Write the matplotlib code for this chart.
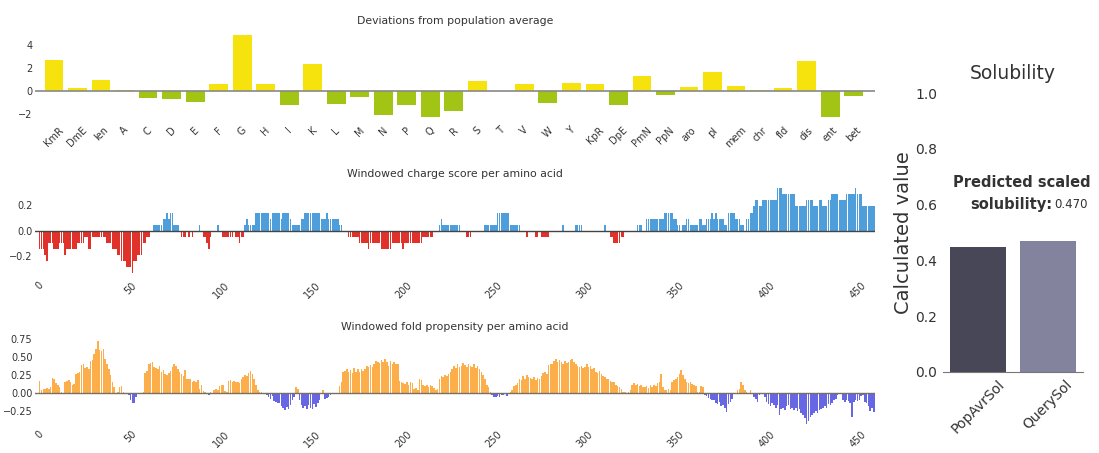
import numpy as np
import matplotlib
matplotlib.use('Agg')
import matplotlib.pyplot as plt

# deviations of each sequence feature from the population average
features = ['KmR', 'DmE', 'len', 'A', 'C', 'D', 'E', 'F', 'G', 'H', 'I', 'K', 'L',
            'M', 'N', 'P', 'Q', 'R', 'S', 'T', 'V', 'W', 'Y', 'KpR', 'DpE', 'PmN',
            'PpN', 'aro', 'pI', 'mem', 'chr', 'fld', 'dis', 'ent', 'bet']
deviations = [2.64, 0.23, 0.96, 0.10, -0.64, -0.72, -0.93, 0.61, 4.85, 0.58, -1.22, 2.35,
              -1.13, -0.49, -2.09, -1.22, -2.23, -1.74, 0.90, 0.02, 0.58, -0.99, 0.70,
              0.61, -1.22, 1.30, -0.35, 0.38, 1.68, 0.41, 0.06, 0.29, 2.55, -2.23, -0.41]

# windowed net charge, counted in residues per window
charge_window = 21
charge_counts = [
    -3, -3, -3, -4, -5, -2, -2, -2, -3, -3, -3, -2, -2, -2, -4, -3, -3, -3, -3, -3,
    -3, -2, -2, -2, -2, -1, -1, -3, -3, -1, -1, -1, -1, -1, -1, -1, -1, -2, -2, -2,
    -3, -3, -3, -4, -4, -5, -5, -5, -6, -6, -6, -7, -5, -5, -4, -4, -4, -2, -2, -1,
    -1, 0, 0, 1, 1, 1, 1, 1, 2, 2, 3, 2, 3, 3, 1, 1, 1, 0, -1, -1,
    -1, 0, -1, 0, -1, 0, 0, 0, 1, 0, -1, -1, -2, -3, -1, 0, 0, 0, 1, 0,
    0, -1, -1, -1, -1, -1, -1, 0, -1, -1, -2, -1, -1, 1, 2, 1, 1, 1, 1, 3,
    3, 3, 3, 3, 3, 3, 3, 2, 3, 3, 3, 3, 3, 2, 3, 3, 3, 3, 2, 1,
    1, 1, 1, 1, 2, 2, 3, 3, 3, 3, 3, 3, 3, 3, 3, 2, 2, 2, 3, 2,
    2, 2, 2, 2, 2, 1, 1, 0, 0, 0, -1, -1, -1, -1, -1, -1, -2, -2, -2, -2,
    -2, -3, -2, -2, -2, -2, -2, -2, -3, -3, -3, -3, -3, -3, -2, -2, -2, -2, -2, -2,
    -3, -2, -2, -2, -2, -2, -2, -2, -2, -2, -2, -1, -1, -1, -1, -1, -1, 0, 0, 0,
    1, 2, 1, 1, 1, 1, 1, 1, 1, 1, 1, 1, 0, 0, 0, -1, -1, -1, 0, 0,
    0, 0, 0, 0, 0, 1, 1, 1, 1, 1, 1, 1, 3, 3, 3, 3, 3, 3, 3, 1,
    1, 1, 1, 1, 1, 0, 0, 0, -1, 0, 0, 0, 0, -1, -1, 0, -1, -1, -1, -1,
    -1, 0, 0, 0, 0, 0, 0, 0, 1, 0, 0, 0, 0, 0, 0, 1, 1, 1, 1, 0,
    0, 0, 0, 0, 0, 0, 0, 0, 0, 0, 0, 1, 0, 0, -1, -1, -2, -2, -2, -2,
    -1, -1, 0, 0, 0, 0, 0, 0, 0, 1, 1, 1, 0, 0, 2, 2, 2, 2, 2, 2,
    2, 2, 2, 2, 3, 3, 3, 3, 3, 2, 2, 1, 1, 0, 1, 1, 2, 2, 1, 1,
    1, 1, 1, 2, 2, 1, 1, 2, 2, 2, 3, 2, 3, 2, 2, 2, 2, 1, 1, 3,
    3, 3, 3, 2, 2, 2, 1, 1, 0, 2, 2, 3, 3, 4, 5, 5, 4, 4, 5, 5,
    5, 5, 5, 5, 5, 5, 7, 7, 7, 6, 6, 6, 6, 6, 6, 6, 4, 4, 4, 4,
    4, 4, 5, 5, 5, 5, 4, 4, 4, 5, 5, 4, 4, 4, 5, 5, 6, 6, 6, 6,
    5, 5, 5, 5, 6, 6, 6, 6, 6, 7, 6, 6, 6, 4, 4, 4, 4, 4, 4, 4,
]

# windowed fold propensity
fold = [
    0.17, 0.04, 0.06, 0.06, 0.07, 0.06, 0.08, 0.21, 0.19, 0.14,
    0.11, 0.08, 0.01, 0.00, 0.15, 0.17, 0.18, 0.16, 0.12, 0.13,
    0.26, 0.28, 0.30, 0.39, 0.41, 0.35, 0.36, 0.34, 0.45, 0.46,
    0.55, 0.61, 0.73, 0.60, 0.58, 0.61, 0.47, 0.40, 0.34, 0.25,
    0.15, 0.08, 0.00, 0.01, 0.08, 0.10, 0.02, 0.00, 0.00, -0.03,
    -0.09, -0.13, -0.14, -0.06, 0.00, 0.00, 0.00, 0.01, 0.28, 0.31,
    0.40, 0.42, 0.43, 0.36, 0.35, 0.33, 0.38, 0.30, 0.32, 0.27,
    0.25, 0.28, 0.31, 0.36, 0.40, 0.38, 0.33, 0.29, 0.26, 0.24,
    0.32, 0.20, 0.19, 0.20, 0.16, 0.17, 0.15, 0.18, 0.06, 0.12,
    0.03, 0.01, 0.00, -0.02, 0.01, 0.00, 0.05, 0.06, 0.05, 0.10,
    0.11, 0.12, 0.03, 0.01, 0.17, 0.18, 0.16, 0.17, 0.15, 0.16,
    0.14, 0.20, 0.22, 0.25, 0.24, 0.28, 0.31, 0.27, 0.20, 0.12,
    0.05, 0.02, 0.01, 0.00, 0.00, -0.02, -0.05, -0.08, -0.04, -0.11,
    -0.12, -0.14, -0.13, -0.18, -0.21, -0.23, -0.19, -0.22, -0.16, -0.10,
    -0.05, 0.08, 0.06, -0.10, -0.16, -0.20, -0.18, -0.22, -0.17, -0.21,
    -0.22, -0.15, -0.19, -0.14, -0.10, 0.00, 0.05, -0.08, -0.07, -0.05,
    -0.02, 0.00, 0.00, 0.00, 0.00, 0.10, 0.15, 0.30, 0.31, 0.34,
    0.30, 0.32, 0.28, 0.35, 0.30, 0.33, 0.29, 0.34, 0.31, 0.33,
    0.38, 0.36, 0.39, 0.37, 0.40, 0.45, 0.44, 0.42, 0.46, 0.43,
    0.48, 0.44, 0.38, 0.45, 0.40, 0.44, 0.41, 0.40, 0.17, 0.15,
    0.14, 0.13, 0.15, 0.12, 0.16, 0.14, 0.06, 0.07, 0.05, 0.20,
    0.18, 0.12, 0.10, 0.11, 0.09, 0.12, 0.10, 0.07, 0.05, 0.06,
    0.20, 0.24, 0.22, 0.25, 0.24, 0.26, 0.30, 0.33, 0.38, 0.35,
    0.40, 0.36, 0.38, 0.42, 0.39, 0.37, 0.41, 0.38, 0.36, 0.40,
    0.35, 0.38, 0.33, 0.30, 0.25, 0.20, 0.12, 0.08, 0.02, -0.02,
    -0.05, -0.06, -0.04, -0.05, -0.03, -0.02, -0.01, -0.04, 0.00, 0.02,
    0.05, 0.10, 0.12, 0.14, 0.20, 0.18, 0.24, 0.20, 0.25, 0.22,
    0.21, 0.19, 0.22, 0.18, 0.21, 0.20, 0.24, 0.28, 0.30, 0.27,
    0.39, 0.41, 0.40, 0.45, 0.47, 0.44, 0.46, 0.43, 0.41, 0.45,
    0.42, 0.44, 0.46, 0.48, 0.43, 0.40, 0.38, 0.36, 0.38, 0.35,
    0.37, 0.40, 0.36, 0.38, 0.33, 0.35, 0.30, 0.28, 0.31, 0.26,
    0.24, 0.22, 0.20, 0.19, 0.17, 0.15, 0.16, 0.12, 0.10, 0.08,
    0.06, 0.02, 0.01, 0.00, 0.01, 0.05, 0.12, 0.14, 0.11, 0.13,
    0.10, 0.12, 0.09, 0.08, 0.10, 0.07, 0.11, 0.09, 0.12, 0.10,
    0.14, 0.16, 0.27, 0.08, 0.05, 0.04, 0.06, 0.05, 0.15, 0.18,
    0.20, 0.22, 0.26, 0.32, 0.25, 0.20, 0.16, 0.14, 0.15, 0.13,
    0.12, 0.10, 0.02, 0.01, 0.10, 0.09, -0.02, -0.04, -0.07, -0.08,
    -0.10, -0.09, -0.13, -0.15, -0.12, -0.18, -0.16, -0.21, -0.26, -0.15,
    -0.12, -0.08, 0.00, 0.00, 0.05, 0.06, 0.15, 0.12, 0.05, 0.02,
    0.00, 0.04, 0.00, -0.05, -0.08, -0.12, -0.03, 0.00, 0.00, -0.05,
    -0.12, -0.15, -0.18, -0.14, -0.17, -0.20, -0.16, -0.31, -0.22, -0.20,
    -0.24, -0.18, -0.17, -0.22, -0.20, -0.23, -0.21, -0.25, -0.22, -0.27,
    -0.30, -0.35, -0.43, -0.38, -0.33, -0.30, -0.28, -0.25, -0.27, -0.24,
    -0.22, -0.20, -0.18, -0.21, -0.15, -0.17, -0.14, -0.10, -0.08, -0.02,
    0.00, -0.01, -0.10, -0.12, -0.09, -0.11, -0.13, -0.33, -0.12, -0.10,
    -0.11, -0.09, -0.04, -0.02, -0.12, -0.14, -0.18, -0.25, -0.20, -0.26,
]

sol_labels = ['PopAvrSol', 'QuerySol']
sol_values = [0.447, 0.470]

text_col = '#333333'
plt.rcParams['font.family'] = 'DejaVu Sans'

fig = plt.figure(figsize=(10.99, 4.53), dpi=100)


def strip(ax):
    for s in ax.spines.values():
        s.set_visible(False)
    ax.tick_params(length=0, labelsize=7, colors=text_col, pad=2)


# deviations
ax1 = fig.add_axes([0.032, 0.730, 0.764, 0.202])
dev = np.array(deviations)
xs = np.arange(len(features))
ax1.bar(xs, dev, width=0.8, color=np.where(dev >= 0, '#f6e20c', '#a2c414'))
ax1.axhline(0, color='#888888', lw=1.2)
ax1.set_xlim(-0.8, len(features) - 0.1)
ax1.set_ylim(-2.7, 5.2)
ax1.set_yticks([-2, 0, 2, 4])
ax1.set_xticks(xs)
ax1.set_xticklabels(features, rotation=45, ha='center')
ax1.set_title('Deviations from population average', fontsize=7.8, color=text_col, pad=5)
strip(ax1)

res_ticks = np.arange(0, 451, 50)

# charge
ax2 = fig.add_axes([0.032, 0.387, 0.764, 0.2075])
charge = np.array(charge_counts) / charge_window
xr = np.arange(len(charge))
ax2.bar(xr, charge, width=0.85, color=np.where(charge >= 0, '#4e9edb', '#e0312b'))
ax2.axhline(0, color='#444444', lw=1.0)
ax2.set_xlim(-2.5, len(charge) - 0.5)
ax2.set_ylim(-0.37, 0.37)
ax2.set_yticks([-0.2, 0.0, 0.2])
ax2.set_xticks(res_ticks)
ax2.set_xticklabels(res_ticks, rotation=45, ha='center')
ax2.set_title('Windowed charge score per amino acid', fontsize=7.8, color=text_col, pad=5)
strip(ax2)

# fold propensity
ax3 = fig.add_axes([0.032, 0.059, 0.764, 0.197])
fp = np.array(fold)
xf = np.arange(len(fp))
ax3.bar(xf, fp, width=0.85, color=np.where(fp >= 0, '#fbae4a', '#6767e4'))
ax3.axhline(0, color='#777066', lw=1.0)
ax3.set_xlim(-2.5, len(charge) - 0.5)
ax3.set_ylim(-0.46, 0.78)
ax3.set_yticks([-0.25, 0.0, 0.25, 0.5, 0.75])
ax3.set_xticks(res_ticks)
ax3.set_xticklabels(res_ticks, rotation=45, ha='center')
ax3.set_title('Windowed fold propensity per amino acid', fontsize=7.8, color=text_col, pad=5)
strip(ax3)

# solubility
ax4 = fig.add_axes([0.858, 0.1795, 0.1274, 0.6146])
ax4.bar([0, 1], sol_values, width=0.8, color=['#474757', '#83839e'])
ax4.set_xlim(-0.5, 1.5)
ax4.set_ylim(0, 1.0)
ax4.set_yticks([0.0, 0.2, 0.4, 0.6, 0.8, 1.0])
ax4.set_xticks([0, 1])
ax4.set_xticklabels(sol_labels, rotation=45, ha='center')
for s in ['top', 'right', 'left']:
    ax4.spines[s].set_visible(False)
ax4.spines['bottom'].set_color('#777777')
ax4.tick_params(length=0, labelsize=10, colors=text_col, pad=4)
ax4.set_ylabel('Calculated value', fontsize=14, color=text_col, labelpad=2)
ax4.set_title('Solubility', fontsize=13.5, color=text_col, pad=10)
ax4.text(0.62, 0.678, 'Predicted scaled', ha='center', va='center',
         fontsize=10.5, fontweight='bold', color=text_col)
ax4.text(1.06, 0.599, 'solubility:', ha='right', va='center',
         fontsize=10.5, fontweight='bold', color=text_col)
ax4.text(1.085, 0.599, '%.3f' % sol_values[1], ha='left', va='center',
         fontsize=8.5, color=text_col)

fig.savefig('out.png', dpi=100)
